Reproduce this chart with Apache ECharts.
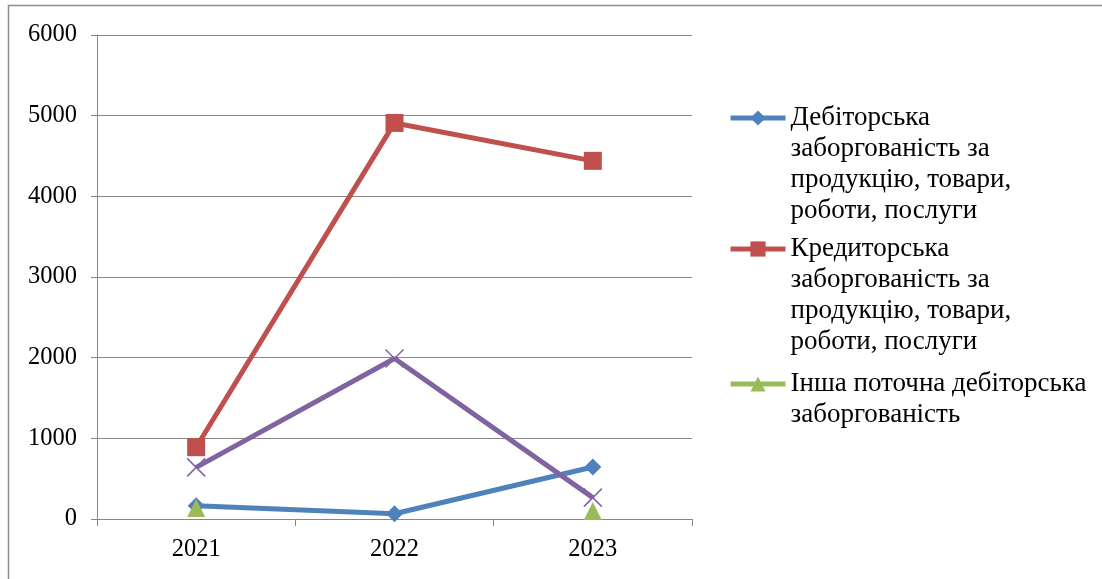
<!DOCTYPE html>
<html>
<head>
    <meta charset="UTF-8">
    <title>Заборгованість</title>
    <script src="https://cdn.jsdelivr.net/npm/echarts/dist/echarts.min.js"></script>
    <style>
        html, body { margin: 0; padding: 0; background: #fff; }
        #chart { width: 1102px; height: 579px; }
    </style>
</head>
<body>
    <div id="chart"></div>
    <script>
        // роки
        var years = ['2021', '2022', '2023'];

        // назви рядів (з переносами як у легенді)
        var names = [
            'Дебіторська\nзаборгованість за\nпродукцію, товари,\nроботи, послуги',
            'Кредиторська\nзаборгованість за\nпродукцію, товари,\nроботи, послуги',
            'Інша поточна дебіторська\nзаборгованість',
            'Інше'
        ];

        // значення
        var debitValues = [165, 65, 645];
        var creditValues = [890, 4910, 4440];
        var otherDebitValues = [135, null, 100];
        var fourthValues = [640, 1990, 265];

        var colors = ['#4F81BD', '#C0504D', '#9BBB59', '#8064A2'];
        var font = '"Liberation Serif", "Times New Roman", serif';

        var chart = echarts.init(document.getElementById('chart'));

        // легенда: значок навпроти першого рядка, тому зверху додаємо порожні рядки
        function makeLegend(name, top) {
            var lines = name.split('\n').length;
            return {
                orient: 'vertical',
                left: 728,
                top: top - (lines - 1) * 31,
                padding: 0,
                itemWidth: 55,
                itemHeight: 19,
                data: [name],
                lineStyle: { width: 5 },
                formatter: function (n) {
                    return new Array(lines).join('\n') + n;
                },
                textStyle: {
                    fontFamily: font,
                    fontSize: 27,
                    color: '#000',
                    lineHeight: 31
                }
            };
        }

        var option = {
            animation: false,
            textStyle: { fontFamily: font },
            graphic: [{
                type: 'rect',
                shape: { x: 8.5, y: 5.5, width: 1100, height: 600 },
                style: { fill: 'none', stroke: '#8c8c8c', lineWidth: 1.5 }
            }],
            grid: { left: 97, right: 410, top: 35, bottom: 60 },
            legend: [
                makeLegend(names[0], 102.5),
                makeLegend(names[1], 233.5),
                makeLegend(names[2], 368.5)
            ],
            xAxis: {
                type: 'category',
                data: years,
                axisLine: { lineStyle: { color: '#868686', width: 1 } },
                axisTick: { show: true, length: 7, lineStyle: { color: '#868686' } },
                axisLabel: { fontFamily: font, fontSize: 24.5, color: '#000', margin: 18 }
            },
            yAxis: {
                type: 'value',
                min: 0,
                max: 6000,
                interval: 1000,
                axisLine: { show: true, lineStyle: { color: '#868686', width: 1 } },
                axisTick: { show: true, length: 6, lineStyle: { color: '#868686' } },
                axisLabel: {
                    fontFamily: font, fontSize: 24.5, color: '#000', margin: 20,
                    formatter: function (v) { return String(v); }
                },
                splitLine: { lineStyle: { color: '#868686', width: 1 } }
            },
            series: [
                {
                    name: names[0], type: 'line', data: debitValues,
                    symbol: 'diamond', symbolSize: 17,
                    lineStyle: { width: 5, color: colors[0] },
                    itemStyle: { color: colors[0] }
                },
                {
                    name: names[1], type: 'line', data: creditValues,
                    symbol: 'rect', symbolSize: 18,
                    lineStyle: { width: 5, color: colors[1] },
                    itemStyle: { color: colors[1] }
                },
                {
                    name: names[2], type: 'line', data: otherDebitValues,
                    symbol: 'triangle', symbolSize: 18, connectNulls: false,
                    lineStyle: { width: 5, color: colors[2] },
                    itemStyle: { color: colors[2] }
                },
                {
                    name: names[3], type: 'line', data: fourthValues,
                    symbol: 'path://M0,0L10,10M10,0L0,10', symbolSize: 18,
                    lineStyle: { width: 5, color: colors[3] },
                    itemStyle: { color: colors[3], borderColor: colors[3], borderWidth: 1.5 }
                }
            ]
        };

        chart.setOption(option);
    </script>
</body>
</html>
